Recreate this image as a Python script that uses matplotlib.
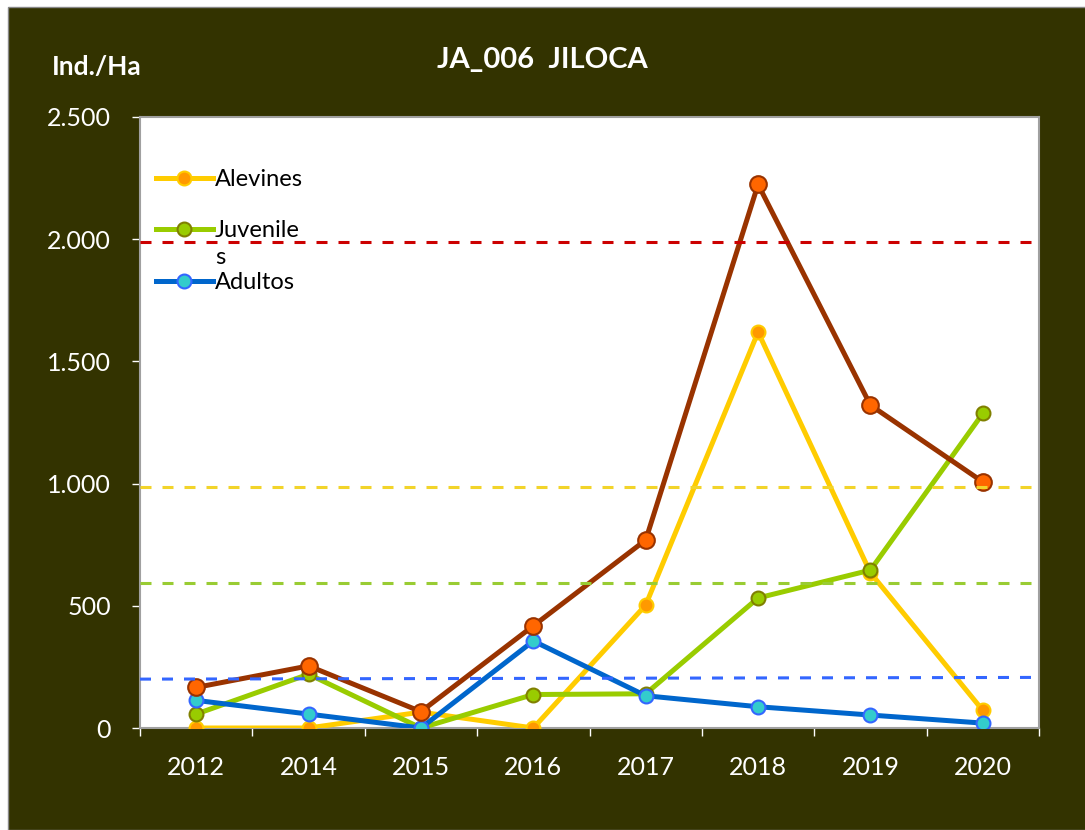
import matplotlib.pyplot as plt
from matplotlib.ticker import FuncFormatter, FixedLocator
from matplotlib.patches import Rectangle

plt.rcParams['font.family'] = ['Lato', 'DejaVu Sans']

# datos (Ind./Ha)
anios = ["2012", "2014", "2015", "2016", "2017", "2018", "2019", "2020"]
alevines = [0, 0, 65, 0, 503, 1620, 635, 72]
juveniles = [57, 220, 0, 137, 140, 532, 646, 1287]
adultos = [113, 57, 0, 356, 132, 87, 53, 20]
total = [166, 254, 67, 418, 769, 2224, 1321, 1007]

# niveles de referencia (lineas discontinuas)
ref_total = [1990, 1990]
ref_alevines = [987, 987]
ref_juveniles = [592, 592]
ref_adultos = [200, 207]

fondo = '#333300'
x = list(range(len(anios)))

fig = plt.figure(figsize=(10.85, 8.3), dpi=100, facecolor='white')
fig.patches.append(Rectangle((8/1085, 0), 1, 1 - 7/830, transform=fig.transFigure,
                             facecolor=fondo, edgecolor='#888888', lw=1, zorder=-10))
ax = fig.add_axes([140/1085, 1 - 728/830, 899/1085, 611/830])
ax.set_facecolor('white')

ax.plot(x, alevines, color='#FFCC00', lw=3.6, marker='o', ms=10,
        mfc='#FF9900', mec='#FFCC00', mew=1.5, label='Alevines', zorder=3)
ax.plot(x, juveniles, color='#99CC00', lw=3.6, marker='o', ms=10,
        mfc='#99CC00', mec='#808000', mew=1.5, label='Juvenile', zorder=3)
ax.plot(x, adultos, color='#0066CC', lw=3.6, marker='o', ms=10,
        mfc='#33CCCC', mec='#3366FF', mew=1.5, label='Adultos', zorder=3)
ax.plot(x, total, color='#993300', lw=3.6, marker='o', ms=12,
        mfc='#FF6600', mec='#993300', mew=1.5, zorder=3)

xr = [-0.5, 7.5]
ls = (0, (3.6, 3.6))
ax.plot(xr, ref_total, color='#CC0000', lw=2.2, ls=ls, zorder=4)
ax.plot(xr, ref_alevines, color='#F2D42A', lw=2.2, ls=ls, zorder=4)
ax.plot(xr, ref_juveniles, color='#99CC33', lw=2.2, ls=ls, zorder=4)
ax.plot(xr, ref_adultos, color='#3366FF', lw=2.2, ls=ls, zorder=4)

ax.set_xlim(-0.5, 7.5)
ax.set_ylim(0, 2500)
ax.set_yticks([0, 500, 1000, 1500, 2000, 2500])
ax.yaxis.set_major_formatter(FuncFormatter(lambda v, p: f"{int(v):,}".replace(",", ".")))
ax.set_xticks(x)
ax.set_xticklabels(anios)
ax.xaxis.set_minor_locator(FixedLocator([i - 0.5 for i in range(len(anios) + 1)]))
ax.tick_params(axis='x', which='major', length=0, pad=20, labelsize=18, labelcolor='white')
ax.tick_params(axis='x', which='minor', length=6, width=1, color='white', direction='out')
ax.tick_params(axis='y', length=6, width=1, color='white', pad=15, labelsize=18, labelcolor='white')
for s in ax.spines.values():
    s.set_color('#A0A0A0')
    s.set_linewidth(1.5)

leg = ax.legend(loc='upper left', bbox_to_anchor=(-0.006, 0.95), frameon=False,
                fontsize=17, handlelength=2.4, handletextpad=0.1, labelspacing=1.3)
leg.set_zorder(5)

# la "s" de Juveniles que el original parte en otra linea
fig.canvas.draw()
tj = leg.get_texts()[1]
bb = tj.get_window_extent()
ax.annotate("s", xy=(bb.x0, bb.y0), xycoords='figure pixels', xytext=(0, -27),
            textcoords='offset pixels', fontsize=17, ha='left', va='bottom', zorder=6)

fig.text(0.5, 1 - 60/830, "JA_006  JILOCA", color='white', fontsize=21,
         fontweight='bold', ha='center', va='center')
fig.text(52/1085, 1 - 67/830, "Ind./Ha", color='white', fontsize=19,
         fontweight='bold', ha='left', va='center')

fig.savefig('out.png', dpi=100, facecolor=fig.get_facecolor())
